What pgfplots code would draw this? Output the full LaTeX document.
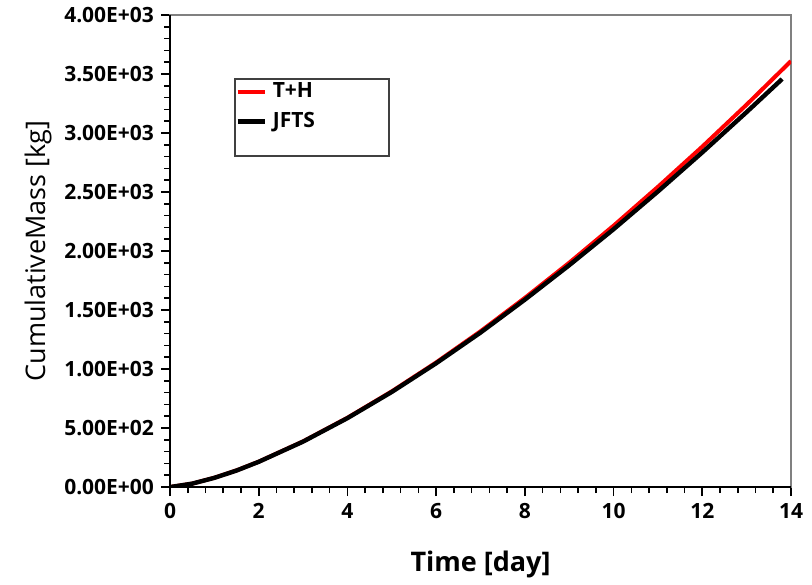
\documentclass[border=0pt]{standalone}
\usepackage{fontspec}
\setmainfont{Open Sans}
\usepackage{pgfplots}
\pgfplotsset{compat=1.18}
\begin{document}
\begin{tikzpicture}
% tick layer (drawn first)
\begin{axis}[
  scale only axis,
  width=310.5pt, height=236pt,
  xmin=0, xmax=14, ymin=0, ymax=4000,
  axis line style={gray, line width=0.9pt},
  xtick pos=left, ytick pos=left,
  xtick={0,2,...,14},
  ytick={0,500,...,4000},
  minor x tick num=4, minor y tick num=4,
  tick align=outside,
  tickwidth=4.5pt, subtickwidth=3pt,
  tick style={draw=black, line width=0.8pt},
  ticklabel style={text=white},
]
\addplot[draw=none, forget plot] coordinates {(0,0) (14,4000)};
\end{axis}
% main axis
\begin{axis}[
  scale only axis,
  width=310.5pt, height=236pt,
  xmin=0, xmax=14, ymin=0, ymax=4000,
  axis line style={gray, line width=0.9pt},
  xtick pos=left, ytick pos=left,
  xtick={0,2,...,14},
  ytick={0,500,...,4000},
  yticklabels={0.00E+00,5.00E+02,1.00E+03,1.50E+03,2.00E+03,2.50E+03,3.00E+03,3.50E+03,4.00E+03},
  minor x tick num=4, minor y tick num=4,
  tick align=outside,
  tickwidth=4.5pt, subtickwidth=3pt,
  tick style={draw=none},
  ticklabel style={font=\fontsize{10.5}{12}\selectfont\bfseries},
  /pgf/number format/assume math mode=true,
  xlabel={Time [day]},
  ylabel={CumulativeMass [kg]},
  xlabel style={font=\fontsize{13.5}{16}\selectfont\bfseries, at={(rel axis cs:0.5,0)}, anchor=center, yshift=-38.5pt},
  ylabel style={font=\fontsize{13.5}{16}\selectfont, at={(rel axis cs:0,0.5)}, anchor=center, yshift=66pt},
  legend style={draw=none, fill=none, at={(rel axis cs:0.1047,0.862)}, anchor=north west,
    inner sep=0pt, row sep=4pt, font=\fontsize{10.5}{12}\selectfont\bfseries,
    nodes={inner xsep=3pt, inner ysep=1pt}},
  legend cell align=left,
  legend image code/.code={\draw[#1] (0pt,0pt) -- (13.5pt,0pt);},
]
\addplot[red, line width=2pt] coordinates {
(0,0) (0.5,29) (1,79) (1.5,141) (2,215) (3,387) (4,587) (5,811) (6,1056) (7,1320)
(8,1603) (9,1901) (10,2215) (11,2544) (12,2885) (13,3241) (14,3610)};
\addlegendentry{T+H}
\addplot[black, line width=2.2pt] coordinates {
(0,0) (0.5,29) (1,78) (1.5,140) (2,214) (3,385) (4,584) (5,806) (6,1049) (7,1309)
(8,1588) (9,1880) (10,2185) (11,2505) (12,2836) (13,3178) (13.8,3458)};
\addlegendentry{JFTS}
\end{axis}
\draw[black, line width=0.9pt] (0,236pt) -- (0,0) -- (310.5pt,0);
\draw[black!75, line width=0.6pt] (32.5pt,165.5pt) rectangle (109.5pt,204pt);
\path (-85pt,-47.5pt) (321pt,243pt);
\end{tikzpicture}
\end{document}
